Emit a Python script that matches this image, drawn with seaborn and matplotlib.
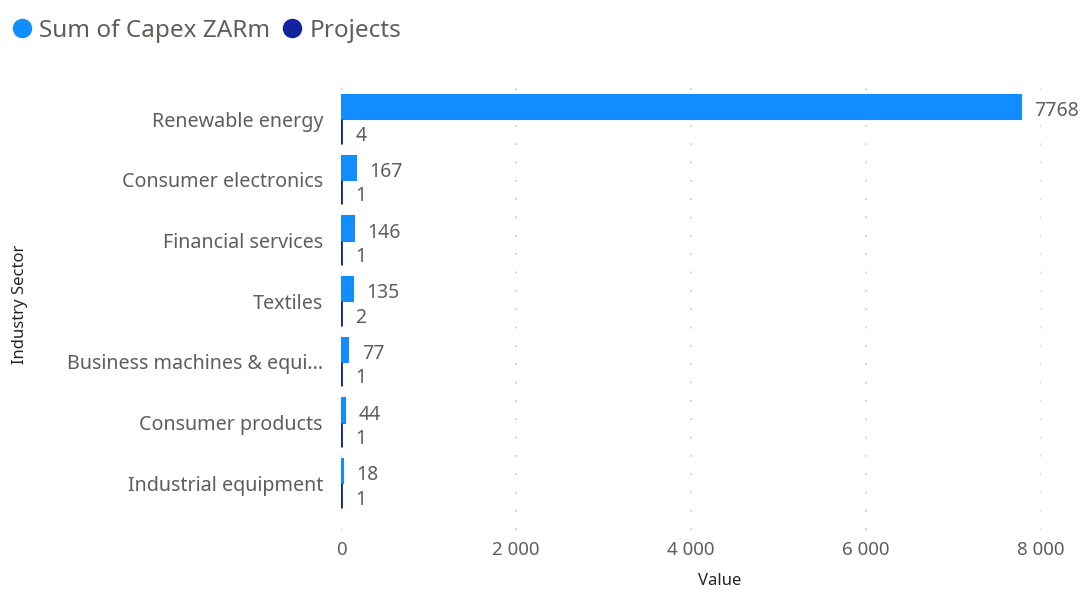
import matplotlib
matplotlib.use("Agg")
import matplotlib.pyplot as plt
from matplotlib.lines import Line2D
import seaborn as sns
import pandas as pd

sectors = [
    "Renewable energy",
    "Consumer electronics",
    "Financial services",
    "Textiles",
    "Business machines & equi...",
    "Consumer products",
    "Industrial equipment",
]
capex_zarm = [7768, 167, 146, 135, 77, 44, 18]
projects = [4, 1, 1, 2, 1, 1, 1]
series_names = ["Sum of Capex ZARm", "Projects"]
x_ticks = [0, 2000, 4000, 6000, 8000]

LIGHT = "#118DFF"
DARK = "#12239E"
TEXT = "#605E5C"
TITLE = "#252423"

sns.set_theme(style="white")
plt.rcParams["font.family"] = ["Noto Sans", "DejaVu Sans"]

df = pd.DataFrame({
    "Industry Sector": sectors * 2,
    "Series": [series_names[0]] * len(sectors) + [series_names[1]] * len(sectors),
    "Value": capex_zarm + projects,
})

W, H = 1083, 589
fig = plt.figure(figsize=(W / 100, H / 100), dpi=100)
left, right, top, bottom = 341, 1041, 78, 530
ax = fig.add_axes([left / W, 1 - bottom / H, (right - left) / W, (bottom - top) / H])

sns.barplot(data=df, y="Industry Sector", x="Value", hue="Series",
            order=sectors, hue_order=series_names,
            palette=[LIGHT, DARK], orient="h", width=0.8, dodge=True,
            saturation=1, errorbar=None, ax=ax, legend=False)

# keep tiny bars visible with an outline in their own colour
for cont, color, lw in zip(ax.containers, (LIGHT, DARK), (1.5, 2.0)):
    for p in cont:
        p.set_edgecolor(color)
        p.set_linewidth(lw)
        p.set_joinstyle("miter")

for cont in ax.containers:
    labels = ax.bar_label(cont, fmt="%d", padding=10, color=TEXT, fontsize=14,
                          clip_on=False)
    for t in labels:
        t.xyann = (t.xyann[0], -3)

ax.set_xlim(0, 8000)
ax.set_ylim(6.77, -0.68)
ax.set_xticks(x_ticks)
ax.set_xticklabels([f"{v:,}".replace(",", " ") for v in x_ticks])
ax.tick_params(axis="x", length=0, labelsize=13.5, labelcolor=TEXT, pad=8)
ax.tick_params(axis="y", length=0, labelsize=14.2, labelcolor=TEXT, pad=13)

ax.grid(False)
for xv in x_ticks:
    ax.axvline(xv, color="#C8C8C8", linestyle=(0, (1, 10)), linewidth=1.2, zorder=0)
for s in ax.spines.values():
    s.set_visible(False)

ax.set_xlabel("Value", fontsize=12, color=TITLE, fontweight="semibold")
ax.xaxis.set_label_coords((720 - left) / (right - left), -(581 - bottom) / (bottom - top))
ax.xaxis.label.set_verticalalignment("center")
ax.set_ylabel("Industry Sector", fontsize=12, color=TITLE, fontweight="semibold")
ax.yaxis.set_label_coords(-(341 - 20) / (right - left), 0.5)
ax.yaxis.label.set_verticalalignment("center")

handles = [Line2D([], [], marker="o", linestyle="", markersize=13, color=c) for c in (LIGHT, DARK)]
fig.legend(handles, series_names, loc="upper left", bbox_to_anchor=(-0.013, 1.005),
           frameon=False, fontsize=17.5, labelcolor=TEXT, ncol=2,
           handletextpad=0.1, columnspacing=0.3, handlelength=1.2,
           borderaxespad=0.5)

fig.savefig("out.png", dpi=100)
